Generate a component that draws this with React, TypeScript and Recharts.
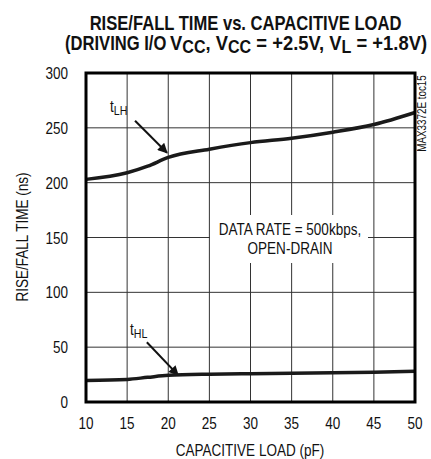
import React from 'react';
import { LineChart, Line, XAxis, YAxis, CartesianGrid, ReferenceLine } from 'recharts';

const capacitance = [10, 15, 17.5, 20, 25, 30, 35, 40, 45, 50];
const tLH = [203, 209, 215, 223, 230.5, 236.5, 240.5, 246, 253, 264];
const tHL = [19.7, 20.6, 22.5, 24.3, 25.4, 25.8, 26.3, 26.7, 27.2, 28];
const xTicks = [10, 15, 20, 25, 30, 35, 40, 45, 50];
const yTicks = [0, 50, 100, 150, 200, 250, 300];

const data = capacitance.map((c, i) => ({ c, tLH: tLH[i], tHL: tHL[i] }));

const FONT = '"Liberation Sans", Arial, Helvetica, sans-serif';
const NARROW = 0.82;
const W = 431;
const H = 459;
const PL = 86, PR = 415, PT = 73, PB = 402;

type TxtProps = {
  x: number;
  y: number;
  size: number;
  anchor?: 'start' | 'middle' | 'end';
  rotate?: number;
  weight?: string;
  sx?: number;
  children: React.ReactNode;
};

function NText({ x, y, size, anchor = 'start', rotate = 0, weight = 'normal', sx = NARROW, children }: TxtProps) {
  return (
    <g transform={`translate(${x},${y}) rotate(${rotate}) scale(${sx},1)`}>
      <text x={0} y={0} textAnchor={anchor} fontSize={size} fontWeight={weight} fontFamily={FONT} fill="#111">
        {children}
      </text>
    </g>
  );
}

const XTick = (props: any) => {
  const { x, y, payload } = props;
  return (
    <NText x={x} y={y + 27} size={16.5} anchor="middle">
      {payload.value}
    </NText>
  );
};

const YTick = (props: any) => {
  const { x, y, payload } = props;
  return (
    <NText x={x - 18} y={y + 6} size={16.5} anchor="end">
      {payload.value}
    </NText>
  );
};

export default function App() {
  return (
    <div style={{ position: 'absolute', left: 0, top: 0, width: W, height: H, background: '#fff' }}>
      <LineChart
        width={W}
        height={H}
        data={data}
        margin={{ top: PT, right: W - PR, bottom: H - PB - 30, left: PL - 60 }}
      >
        <defs>
          <marker id="arrow" viewBox="0 0 10 10" refX="9" refY="5" markerWidth="6" markerHeight="5" orient="auto">
            <path d="M0,0 L10,5 L0,10 z" fill="#111" />
          </marker>
        </defs>
        <CartesianGrid stroke="#333" strokeWidth={1} vertical horizontal />
        <XAxis
          dataKey="c"
          type="number"
          domain={[10, 50]}
          ticks={xTicks}
          height={30}
          tickLine={false}
          axisLine={false}
          tickSize={0}
          tickMargin={0}
          tick={<XTick />}
        />
        <YAxis
          type="number"
          domain={[0, 300]}
          ticks={yTicks}
          width={60}
          tickLine={false}
          axisLine={false}
          tickSize={0}
          tickMargin={0}
          tick={<YTick />}
        />
        <ReferenceLine
          segment={[{ x: 15.96, y: 256.4 }, { x: 19.85, y: 227.3 }]}
          stroke="#111"
          strokeWidth={2}
          markerEnd="url(#arrow)"
        />
        <ReferenceLine
          segment={[{ x: 17.4, y: 54.5 }, { x: 21.2, y: 24.5 }]}
          stroke="#111"
          strokeWidth={2}
          markerEnd="url(#arrow)"
        />
        <Line type="monotone" dataKey="tLH" stroke="#1a1a1a" strokeWidth={3.5} dot={false} isAnimationActive={false} />
        <Line type="monotone" dataKey="tHL" stroke="#1a1a1a" strokeWidth={3.5} dot={false} isAnimationActive={false} />
      </LineChart>
      <svg
        width={W}
        height={H}
        style={{ position: 'absolute', left: 0, top: 0, pointerEvents: 'none' }}
      >
        <rect x={PL} y={PT} width={PR - PL} height={PB - PT} fill="none" stroke="#000" strokeWidth={3} />
        <NText x={245.5} y={30} size={20} anchor="middle" weight="bold" sx={0.83}>
          RISE/FALL TIME vs. CAPACITIVE LOAD
        </NText>
        <NText x={65} y={49.5} size={20} anchor="start" weight="bold" sx={0.83}>
          (DRIVING I/O
        </NText>
        <NText x={170} y={49.5} size={20} anchor="start" weight="bold" sx={0.92}>
          V<tspan fontSize={17.5} dy={3.5}>CC</tspan>
          <tspan dy={-3.5}>, V</tspan><tspan fontSize={17.5} dy={3.5}>CC</tspan>
          <tspan dy={-3.5}> = +2.5V, V</tspan><tspan fontSize={17.5} dy={3.5}>L</tspan>
          <tspan dy={-3.5}> = +1.8V)</tspan>
        </NText>
        <NText x={28} y={237} size={16.5} anchor="middle" rotate={-90}>
          RISE/FALL TIME (ns)
        </NText>
        <NText x={250} y={456} size={16.5} anchor="middle">
          CAPACITIVE LOAD (pF)
        </NText>
        <NText x={426} y={113.5} size={12} anchor="middle" rotate={-90}>
          MAX3372E toc15
        </NText>
        <rect x={210} y={215} width={158} height={48} fill="#fff" />
        <NText x={290} y={235} size={16.5} anchor="middle">
          DATA RATE = 500kbps,
        </NText>
        <NText x={290} y={254} size={16.5} anchor="middle">
          OPEN-DRAIN
        </NText>
        <NText x={110} y={112} size={16.5}>
          t<tspan fontSize={13} dy={3}>LH</tspan>
        </NText>
        <NText x={130} y={335} size={16.5}>
          t<tspan fontSize={13} dy={3}>HL</tspan>
        </NText>
      </svg>
    </div>
  );
}
